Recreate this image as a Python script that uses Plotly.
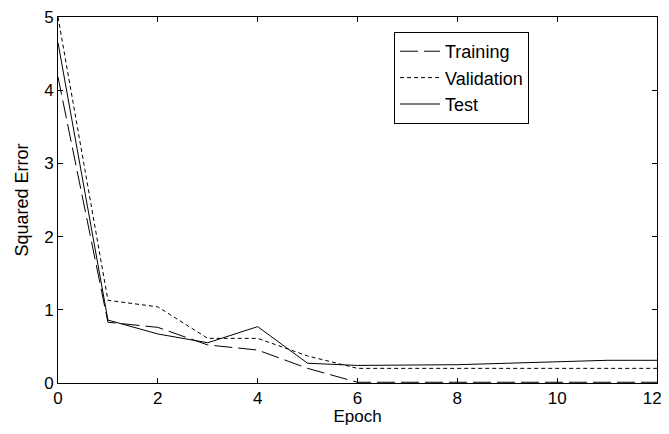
import plotly.graph_objects as go

epochs = [0, 1, 2, 3, 4, 5, 6, 7, 8, 9, 10, 11, 12]
training = [4.18, 0.83, 0.76, 0.52, 0.45, 0.20, 0.01, 0.01, 0.01, 0.01, 0.01, 0.01, 0.01]
validation = [5.0, 1.13, 1.04, 0.61, 0.61, 0.37, 0.20, 0.20, 0.20, 0.20, 0.20, 0.20, 0.20]
test = [4.65, 0.86, 0.67, 0.55, 0.77, 0.27, 0.24, 0.24, 0.25, 0.27, 0.29, 0.31, 0.31]

x_ticks = [0, 2, 4, 6, 8, 10, 12]
x_tick_labels = ["0", "2", "4", "6", "8", "10", "12\u00a0\u00a0"]
y_ticks = [0, 1, 2, 3, 4, 5]
y_tick_labels = ["0", "1", "2", "3", "4", "5"]

font_family = "Liberation Sans, Arial, sans-serif"

fig = go.Figure()
fig.add_trace(go.Scatter(x=epochs, y=training, mode="lines", name="Training",
                         line=dict(color="black", width=1, dash="18px,6px")))
fig.add_trace(go.Scatter(x=epochs, y=validation, mode="lines", name="Validation",
                         line=dict(color="black", width=1, dash="4px,3px")))
fig.add_trace(go.Scatter(x=epochs, y=test, mode="lines", name="Test",
                         line=dict(color="black", width=1)))

axis_common = dict(showline=True, linecolor="black", linewidth=1, mirror="ticks",
                   ticks="inside", ticklen=5, tickcolor="black", showgrid=False,
                   zeroline=False, automargin=False, ticklabeloverflow="allow",
                   tickfont=dict(family=font_family, size=17, color="black"))

# page body has an 8px default margin, so the figure is sized to fill the rest
fig.update_layout(
    width=661, height=418,
    margin=dict(l=50, r=12, t=9, b=43, autoexpand=False),
    paper_bgcolor="white", plot_bgcolor="white",
    font=dict(family=font_family, color="black"),
    showlegend=True,
    legend=dict(x=0.561, y=0.959, xanchor="left", yanchor="top",
                bordercolor="black", borderwidth=1, bgcolor="white",
                font=dict(family=font_family, size=18, color="black"),
                tracegroupgap=0, itemwidth=40),
    xaxis=dict(range=[0, 12], tickvals=x_ticks, ticktext=x_tick_labels,
               title=dict(text="Epoch", font=dict(family=font_family, size=17), standoff=3),
               **axis_common),
    yaxis=dict(range=[0, 5], tickvals=y_ticks, ticktext=y_tick_labels,
               title=dict(text="Squared Error", font=dict(family=font_family, size=18), standoff=10),
               **axis_common),
)

fig.write_html("out.html")
